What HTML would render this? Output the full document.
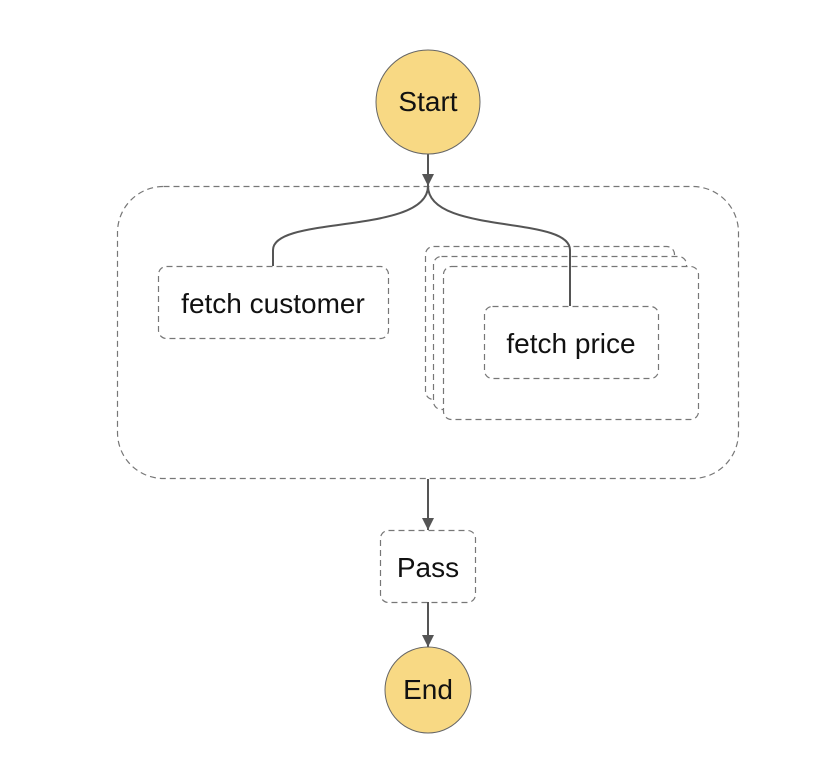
<!DOCTYPE html>
<html><head><style>html,body{margin:0;padding:0;background:#fff;}svg{display:block}</style></head>
<body>
<svg width="832" height="780" viewBox="0 0 832 780" xmlns="http://www.w3.org/2000/svg" font-family="Liberation Sans, sans-serif">
<defs>
<marker id="b" viewBox="0 0 10 10" markerWidth="12" markerHeight="12" refX="10" refY="5" orient="auto" markerUnits="userSpaceOnUse"><path d="M0,0 L10,5 L0,10 z" fill="#555"/></marker></defs>
<g fill="none" stroke="#777" stroke-width="1.2" stroke-dasharray="6,4">
<rect x="117.5" y="186.5" width="621" height="292" rx="46"/>
<rect x="158.5" y="266.5" width="230" height="72" rx="8"/>
<rect x="425.5" y="246.5" width="249" height="153" rx="8" fill="#fff"/>
<rect x="433.5" y="256.5" width="253" height="153" rx="8" fill="#fff"/>
<rect x="443.5" y="266.5" width="255" height="153" rx="8" fill="#fff"/>
<rect x="484.5" y="306.5" width="174" height="72" rx="8"/>
<rect x="380.5" y="530.5" width="95" height="72" rx="8"/>
</g>
<g fill="none" stroke="#555" stroke-width="2">
<path d="M428,152 L428,186" marker-end="url(#b)"/>
<path d="M428,186 C428,235 273,215 273,250 L273,266"/>
<path d="M428,186 C428,235 570,215 570,250 L570,306"/>
<path d="M428,479 L428,530" marker-end="url(#b)"/>
<path d="M428,602 L428,647" marker-end="url(#b)"/>
</g>
<circle cx="428" cy="102" r="52" fill="#f8d984" stroke="#666" stroke-width="1"/>
<circle cx="428" cy="690" r="43" fill="#f8d984" stroke="#666" stroke-width="1"/>
<g font-size="28" fill="#111" text-anchor="middle">
<text x="428" y="111">Start</text>
<text x="428" y="699">End</text>
<text x="273" y="313">fetch customer</text>
<text x="571" y="353">fetch price</text>
<text x="428" y="577">Pass</text>
</g>
</svg>
</body></html>
